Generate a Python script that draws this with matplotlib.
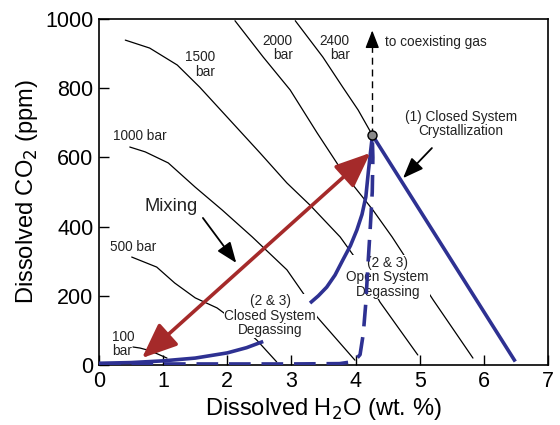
import matplotlib
matplotlib.use("Agg")
import matplotlib.pyplot as plt
from matplotlib.patches import FancyArrowPatch

plt.rcParams['font.family'] = ['Liberation Sans', 'DejaVu Sans']

# ---- data ----
iso100_x = [0.53, 0.64, 0.76, 0.90, 1.06]
iso100_y = [52, 49, 43, 33, 20]
iso500_x = [0.51, 0.90, 1.18, 1.50, 1.84, 2.20, 2.46, 2.77]
iso500_y = [312, 283, 237, 194, 165, 116, 72, 9]
iso1000_x = [0.48, 0.72, 1.08, 1.50, 1.92, 2.39, 2.93, 3.29, 3.40, 3.99]
iso1000_y = [630, 616, 584, 514, 448, 370, 275, 179, 139, 14]
iso1500_x = [0.41, 0.79, 1.22, 1.57, 2.04, 2.51, 2.93, 3.29, 3.76, 4.02, 4.38, 4.97]
iso1500_y = [939, 916, 867, 803, 708, 613, 526, 462, 370, 303, 182, 29]
iso2000_x = [2.12, 2.56, 2.98, 3.40, 3.81, 4.27, 4.57, 5.21, 5.83]
iso2000_y = [995, 890, 795, 671, 555, 448, 370, 188, 20]
iso2400_x = [3.06, 3.49, 3.80, 4.04, 4.26]
iso2400_y = [995, 890, 803, 737, 665]

cryst_x = [4.26, 6.49]
cryst_y = [665, 10]
open_x = [3.29, 3.42, 3.55, 3.68, 3.80, 3.92, 4.02, 4.10, 4.16, 4.20, 4.23, 4.26]
open_y = [179, 200, 225, 260, 303, 345, 390, 435, 486, 560, 610, 660]
closed_x = [0.0, 0.5, 1.0, 1.5, 2.0, 2.3, 2.56]
closed_y = [5, 7, 12, 20, 35, 50, 68]
dash_x = [0.0, 3.0, 3.75, 3.9, 4.0, 4.07, 4.12, 4.16, 4.19, 4.23, 4.26, 4.27, 4.26]
dash_y = [3, 3, 4, 8, 15, 30, 90, 180, 280, 400, 500, 600, 665]

point_x, point_y = 4.26, 665
gas_tip_y = 975
mix_start = (4.23, 613)
mix_end = (0.67, 20)

xticks = [0, 1, 2, 3, 4, 5, 6, 7]
yticks = [0, 200, 400, 600, 800, 1000]

BLUE = '#2E3192'
RED = '#A52A2A'

fig = plt.figure(figsize=(5.6, 4.25), dpi=100)
ax = fig.add_axes([99/560, 1-365/425, 449/560, 346/425])
ax.set_xlim(0, 7)
ax.set_ylim(0, 1000)

# isobars
for xs, ys in [(iso100_x, iso100_y), (iso500_x, iso500_y), (iso1000_x, iso1000_y),
               (iso1500_x, iso1500_y), (iso2000_x, iso2000_y), (iso2400_x, iso2400_y)]:
    ax.plot(xs, ys, color='black', lw=0.9, zorder=1, solid_capstyle='round',
            solid_joinstyle='round')

txt_kw = dict(fontsize=9.8, color='#222222', zorder=2, linespacing=1.05)
ax.text(1.81, 868, '1500\nbar', ha='right', va='center', **txt_kw)
ax.text(3.02, 916, '2000\nbar', ha='right', va='center', **txt_kw)
ax.text(3.91, 916, '2400\nbar', ha='right', va='center', **txt_kw)
ax.text(0.22, 662, '1000 bar', ha='left', va='center', **txt_kw)
ax.text(0.17, 341, '500 bar', ha='left', va='center', **txt_kw)
ax.text(0.20, 61, '100\nbar', ha='left', va='center', **txt_kw)
ax.text(4.46, 934, 'to coexisting gas', ha='left', va='center', **txt_kw)
ax.text(5.64, 697, '(1) Closed System\nCrystallization', ha='center', va='center', **txt_kw)
bb = dict(facecolor='white', edgecolor='none', pad=0.5)
ax.text(2.67, 142, '(2 & 3)\nClosed System\nDegassing', ha='center', va='center', bbox=bb, **txt_kw)
ax.text(4.50, 254, '(2 & 3)\nOpen System\nDegassing', ha='center', va='center', bbox=bb, **txt_kw)
ax.text(1.12, 457, 'Mixing', ha='center', va='center', fontsize=13.2, color='#222222', zorder=2)

# blue paths
ax.plot(cryst_x, cryst_y, color=BLUE, lw=2.6, zorder=3, solid_capstyle='butt')
ax.plot(open_x, open_y, color=BLUE, lw=2.6, zorder=3, solid_capstyle='butt',
        solid_joinstyle='round')
ax.plot(closed_x, closed_y, color=BLUE, lw=2.6, zorder=3, solid_capstyle='butt',
        solid_joinstyle='round')
ln, = ax.plot(dash_x, dash_y, color=BLUE, lw=2.6, zorder=3)
ln.set_dashes((6, 3))

# dashed arrow to coexisting gas
ax.plot([point_x, point_x], [point_y, gas_tip_y - 30], color='black', lw=1.0,
        dashes=(5, 3.5), zorder=3)
ax.add_patch(FancyArrowPatch((point_x, gas_tip_y - 35), (point_x, gas_tip_y),
                             arrowstyle='-|>,head_length=0.9,head_width=0.35',
                             mutation_scale=12, color='black', lw=1.0, zorder=4))

# mixing double arrow
ax.add_patch(FancyArrowPatch(mix_start, mix_end,
                             arrowstyle='<|-|>,head_length=1.2,head_width=0.5',
                             mutation_scale=18, color=RED, lw=2.6, zorder=4,
                             shrinkA=0, shrinkB=0))

# black pointer arrows
ax.add_patch(FancyArrowPatch((1.62, 425), (2.14, 295),
                             arrowstyle='-|>,head_length=0.9,head_width=0.35',
                             mutation_scale=14, color='black', lw=1.3, zorder=4,
                             shrinkA=0, shrinkB=0))
ax.add_patch(FancyArrowPatch((5.19, 627), (4.74, 540),
                             arrowstyle='-|>,head_length=0.9,head_width=0.35',
                             mutation_scale=14, color='black', lw=1.3, zorder=4,
                             shrinkA=0, shrinkB=0))

# starting point
ax.plot([point_x], [point_y], 'o', ms=6.5, mfc='#8a8a8a', mec='black', mew=1.0, zorder=5)

ax.set_xticks(xticks)
ax.set_yticks(yticks)
ax.tick_params(direction='in', length=7, width=1.0, labelsize=15.5, pad=4,
               top=False, right=False)
for s in ax.spines.values():
    s.set_linewidth(1.2)
ax.set_xlabel('Dissolved H$_2$O (wt. %)', fontsize=17, labelpad=3)
ax.set_ylabel('Dissolved CO$_2$ (ppm)', fontsize=17, labelpad=4)

fig.savefig('out.png', dpi=100)
